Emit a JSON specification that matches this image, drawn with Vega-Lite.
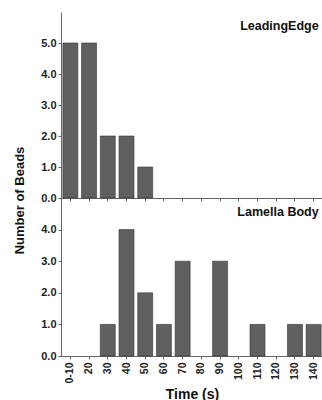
{
  "$schema": "https://vega.github.io/schema/vega-lite/v6.json",
  "background": "white",
  "padding": {"left": 12, "top": 12, "right": 0, "bottom": 5},
  "bounds": "flush",
  "config": {
    "font": "Liberation Sans",
    "view": {"stroke": null},
    "axis": {
      "labelFont": "Liberation Sans",
      "labelFontWeight": "bold",
      "labelFontSize": 11,
      "labelColor": "#222",
      "labelOverlap": false,
      "domainColor": "#666",
      "tickColor": "#666",
      "tickSize": 3,
      "grid": false,
      "titleFont": "Liberation Sans",
      "titleFontWeight": "bold",
      "titleColor": "#111"
    }
  },
  "datasets": {
    "beads": [
      {"panel": "LeadingEdge", "time": "0-10", "count": 5},
      {"panel": "LeadingEdge", "time": "20", "count": 5},
      {"panel": "LeadingEdge", "time": "30", "count": 2},
      {"panel": "LeadingEdge", "time": "40", "count": 2},
      {"panel": "LeadingEdge", "time": "50", "count": 1},
      {"panel": "Lamella Body", "time": "30", "count": 1},
      {"panel": "Lamella Body", "time": "40", "count": 4},
      {"panel": "Lamella Body", "time": "50", "count": 2},
      {"panel": "Lamella Body", "time": "60", "count": 1},
      {"panel": "Lamella Body", "time": "70", "count": 3},
      {"panel": "Lamella Body", "time": "90", "count": 3},
      {"panel": "Lamella Body", "time": "110", "count": 1},
      {"panel": "Lamella Body", "time": "130", "count": 1},
      {"panel": "Lamella Body", "time": "140", "count": 1}
    ],
    "panels": [
      {"panel": "LeadingEdge", "time": "140", "pos": 5.55},
      {"panel": "Lamella Body", "time": "140", "pos": 4.55}
    ]
  },
  "spacing": 0,
  "vconcat": [
    {
      "width": 262,
      "height": 186,
      "layer": [
        {
          "data": {"name": "beads"},
          "transform": [{"filter": "datum.panel === 'LeadingEdge'"}],
          "mark": {"type": "bar", "color": "#606060", "stroke": "#333", "strokeWidth": 0.6},
          "encoding": {
            "x": {
              "field": "time", "type": "ordinal",
              "scale": {"domain": ["0-10","20","30","40","50","60","70","80","90","100","110","120","130","140"], "paddingInner": 0.2, "paddingOuter": 0.1},
              "axis": {"labels": false, "title": null}
            },
            "y": {
              "field": "count", "type": "quantitative",
              "scale": {"domain": [0, 6], "nice": false},
              "axis": {"values": [0, 1, 2, 3, 4, 5], "format": ".1f", "title": null}
            }
          }
        },
        {
          "data": {"name": "panels"},
          "transform": [{"filter": "datum.panel === 'LeadingEdge'"}],
          "mark": {"type": "text", "align": "right", "baseline": "middle", "dx": 5, "fontSize": 12.5, "fontWeight": "bold", "color": "#111"},
          "encoding": {
            "x": {"field": "time", "type": "ordinal", "axis": {"labels": false, "title": null}},
            "y": {"field": "pos", "type": "quantitative", "axis": {"values": [0, 1, 2, 3, 4, 5], "format": ".1f", "title": null}},
            "text": {"field": "panel"}
          }
        },
        {
          "mark": {"type": "rule", "color": "#666"},
          "encoding": {
            "y": {"datum": 6, "type": "quantitative", "axis": {"values": [0, 1, 2, 3, 4, 5], "format": ".1f", "title": null}}
          }
        }
      ]
    },
    {
      "width": 262,
      "height": 158,
      "layer": [
        {
          "data": {"name": "beads"},
          "transform": [{"filter": "datum.panel === 'Lamella Body'"}],
          "mark": {"type": "bar", "color": "#606060", "stroke": "#333", "strokeWidth": 0.6},
          "encoding": {
            "x": {
              "field": "time", "type": "ordinal",
              "scale": {"domain": ["0-10","20","30","40","50","60","70","80","90","100","110","120","130","140"], "paddingInner": 0.2, "paddingOuter": 0.1},
              "axis": {"labelAngle": -90, "labelPadding": 3, "labelFontSize": 10.5, "title": "Time (s)", "titleFontSize": 14, "titlePadding": 4}
            },
            "y": {
              "field": "count", "type": "quantitative",
              "scale": {"domain": [0, 5], "nice": false},
              "axis": {"values": [0, 1, 2, 3, 4], "format": ".1f", "title": "Number of Beads", "titleFontSize": 13, "titleX": -42, "titleY": 2, "titleAlign": "center", "titleBaseline": "middle"}
            }
          }
        },
        {
          "data": {"name": "panels"},
          "transform": [{"filter": "datum.panel === 'Lamella Body'"}],
          "mark": {"type": "text", "align": "right", "baseline": "middle", "dx": 5, "fontSize": 12.5, "fontWeight": "bold", "color": "#111"},
          "encoding": {
            "x": {"field": "time", "type": "ordinal", "axis": {"labelAngle": -90, "labelPadding": 3, "labelFontSize": 10.5, "title": "Time (s)", "titleFontSize": 14, "titlePadding": 4}},
            "y": {"field": "pos", "type": "quantitative", "axis": {"values": [0, 1, 2, 3, 4], "format": ".1f", "title": "Number of Beads", "titleFontSize": 13, "titleX": -42, "titleY": 2, "titleAlign": "center", "titleBaseline": "middle"}},
            "text": {"field": "panel"}
          }
        }
      ]
    }
  ]
}
